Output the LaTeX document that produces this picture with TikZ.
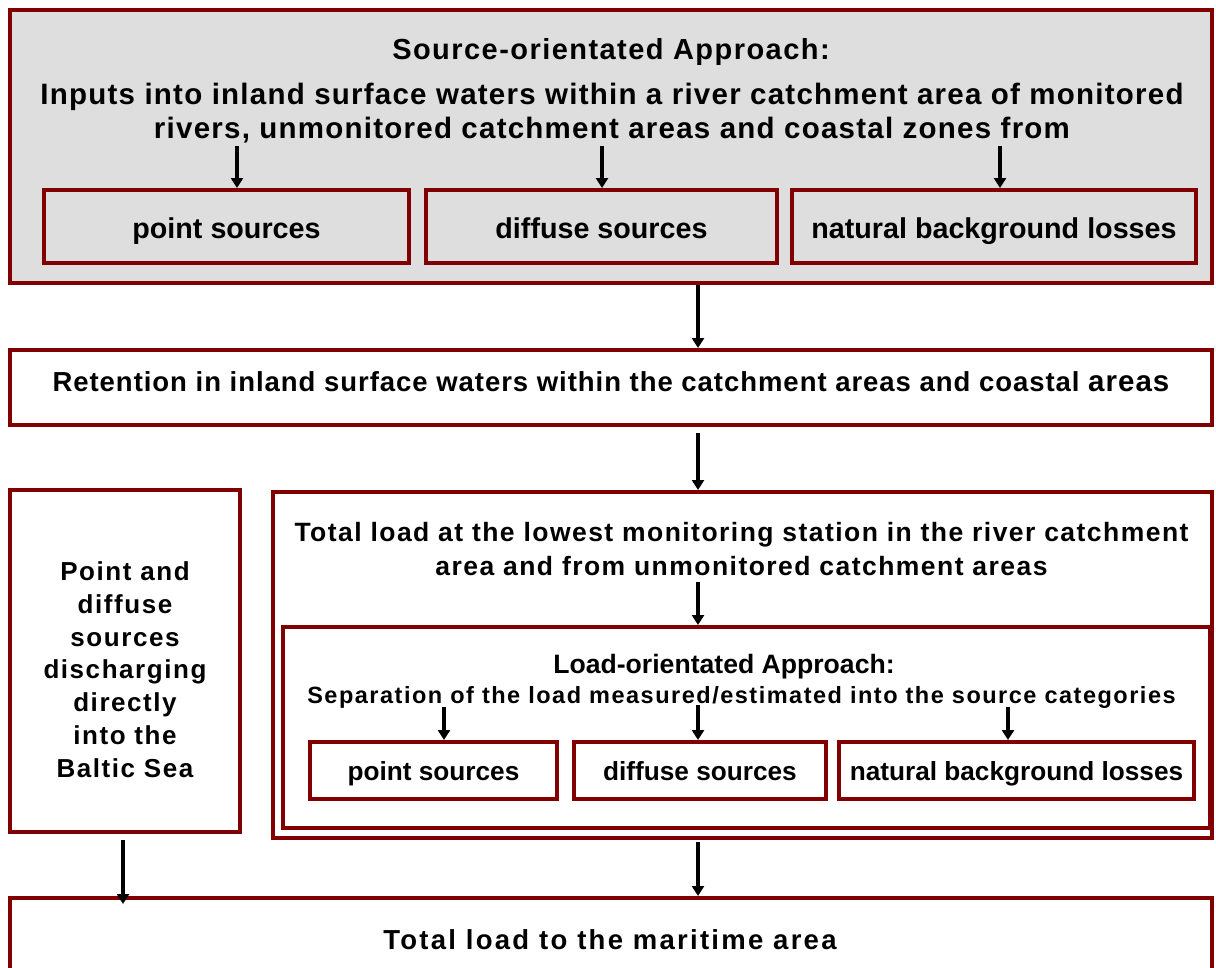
\documentclass[tikz,border=0pt]{standalone}
\usepackage{fontspec}
\setmainfont{Liberation Sans}
\usetikzlibrary{arrows.meta,positioning}
\definecolor{boxred}{RGB}{128,0,0}
\definecolor{boxgray}{RGB}{222,222,222}
\newcommand\boldsz[3]{\bfseries\fontsize{#1}{#2}\selectfont\addfontfeature{LetterSpace=#3}}

\begin{document}
\begin{tikzpicture}[x=1pt,y=-1pt,
  frame/.style={draw=boxred,line width=4pt,rectangle,inner sep=0pt,align=center},
  flow/.style={-{Triangle[length=10pt,width=12pt]},line width=3.6pt},
  txt/.style={align=center,inner sep=0pt,anchor=base}]
\useasboundingbox (0,0) rectangle (1216,967);
\clip (0,0) rectangle (1216,967);

\node[frame,fill=boxgray,minimum width=1202pt,minimum height=273pt] (src) at (611,146.5) {};
\node[txt,font=\boldsz{29}{34}{5}] (srctitle) at (611,59) {Source-orientated Approach:};
\node[txt,font=\boldsz{29.5}{34.5}{4.2}] (srcinputs) at (612,138.5)
  {Inputs into inland surface waters within a river catchment area of monitored\\
   rivers, unmonitored catchment areas and coastal zones from};
\node[frame,minimum width=365pt,minimum height=73pt,text height=23pt,text depth=0pt,font=\boldsz{28.7}{28.7}{0}] (srcpoint) at (226.5,226.5) {point sources};
\node[frame,minimum width=351pt,minimum height=73pt,text height=23pt,text depth=0pt,font=\boldsz{28.7}{28.7}{0}] (srcdiffuse) at (601.5,226.5) {diffuse sources};
\node[frame,minimum width=404pt,minimum height=73pt,text height=23pt,text depth=0pt,font=\boldsz{28.7}{28.7}{0}] (srcnatural) at (994,226.5) {natural background losses};

\node[frame,minimum width=1202pt,minimum height=75pt,text height=8pt,text depth=0pt,font=\boldsz{27.5}{27.5}{3.5}] (ret) at (611,387.5)
  {Retention in inland surface waters within the catchment areas and coastal {\fontsize{29.5}{29.5}\selectfont areas}};

\node[frame,minimum width=230pt,minimum height=342pt] (direct) at (125,661) {};
\node[txt,font=\boldsz{26}{32.7}{6}] (directtext) at (125,777)
  {Point and\\diffuse\\sources\\discharging\\directly\\into the\\Baltic Sea};

\node[frame,minimum width=939pt,minimum height=346pt] (total) at (742.5,665) {};
\node[txt,font=\boldsz{26.5}{34}{5.5}] (totaltext) at (741.5,575)
  {Total load at the lowest monitoring station in the river catchment\\
   area and from unmonitored catchment areas};

\node[frame,minimum width=927pt,minimum height=201pt] (load) at (746.5,727.5) {};
\node[txt,font=\boldsz{26.6}{26.6}{0}] (loadtitle) at (724,673) {Load-orientated Approach:};
\node[txt,font=\boldsz{23.5}{23.5}{6.4}] (loadsep) at (741.5,703) {Separation of the load measured/estimated into the source categories};
\node[frame,minimum width=247pt,minimum height=57pt,text height=19pt,text depth=0pt,font=\boldsz{26.2}{26.2}{0}] (loadpoint) at (433.5,770.5) {point sources};
\node[frame,minimum width=252pt,minimum height=57pt,text height=19pt,text depth=0pt,font=\boldsz{26.2}{26.2}{0}] (loaddiffuse) at (700,770.5) {diffuse sources};
\node[frame,minimum width=355pt,minimum height=57pt,text height=19pt,text depth=0pt,font=\boldsz{26.2}{26.2}{0}] (loadnatural) at (1016.5,770.5) {natural background losses};

\node[frame,minimum width=1202pt,minimum height=102pt] (sea) at (611,949) {};
\node[txt,font=\boldsz{27.5}{27.5}{8.2}] (seatext) at (610,949) {Total load to the maritime area};

\coordinate (c1) at (237,146);
\coordinate (c2) at (602,146);
\coordinate (c3) at (1000,146);
\coordinate (mid) at (698,0);
\coordinate (t1) at (698,582);
\coordinate (d1) at (444,707);
\coordinate (d2) at (698,705);
\coordinate (d3) at (1008,707);
\coordinate (left) at (123,0);

\draw[flow] (c1) -- (c1 |- srcpoint.north);
\draw[flow] (c2) -- (c2 |- srcdiffuse.north);
\draw[flow] (c3) -- (c3 |- srcnatural.north);
\draw[flow] (src.south -| mid) -- (ret.north -| mid);
\draw[flow] ([yshift=-6pt]ret.south -| mid) -- (total.north -| mid);
\draw[flow] (t1) -- (load.north -| mid);
\draw[flow] (d1) -- (d1 |- loadpoint.north);
\draw[flow] (d2) -- (d2 |- loaddiffuse.north);
\draw[flow] (d3) -- (d3 |- loadnatural.north);
\draw[flow] ([yshift=-6pt]direct.south -| left) -- ([yshift=-8pt]sea.north -| left);
\draw[flow] ([yshift=-2pt]total.south -| mid) -- (sea.north -| mid);
\end{tikzpicture}
\end{document}
